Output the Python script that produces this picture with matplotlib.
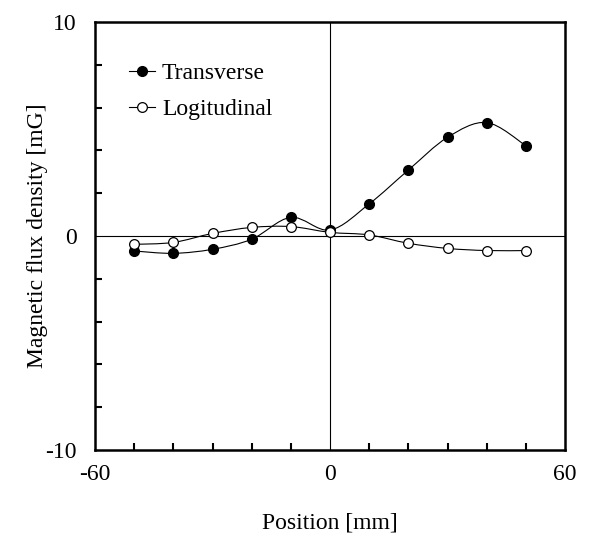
import numpy as np
import matplotlib
matplotlib.use('Agg')
import matplotlib.pyplot as plt
from matplotlib.path import Path
from matplotlib.patches import PathPatch
from matplotlib.lines import Line2D

plt.rcParams['font.family'] = ['Liberation Serif', 'DejaVu Serif']
plt.rcParams['axes.unicode_minus'] = False

position = [-50, -40, -30, -20, -10, 0, 10, 20, 30, 40, 50]
transverse = [-0.70, -0.81, -0.62, -0.15, 0.87, 0.28, 1.50, 3.08, 4.61, 5.30, 4.22]
longitudinal = [-0.39, -0.30, 0.12, 0.40, 0.44, 0.17, 0.05, -0.34, -0.58, -0.68, -0.68]


def smooth_path(xs, ys):
    # bezier segments, catmull-rom style (like spreadsheet "smoothed line")
    p = np.column_stack([xs, ys]).astype(float)
    n = len(p)
    verts = [p[0]]
    codes = [Path.MOVETO]
    for i in range(n - 1):
        p0 = p[i - 1] if i > 0 else p[i]
        p3 = p[i + 2] if i + 2 < n else p[i + 1]
        c1 = p[i] + (p[i + 1] - p0) / 6
        c2 = p[i + 1] - (p3 - p[i]) / 6
        verts += [c1, c2, p[i + 1]]
        codes += [Path.CURVE4] * 3
    return Path(verts, codes)


fig = plt.figure(figsize=(5.95, 5.36), dpi=100)
ax = fig.add_axes([0.1597, 0.1604, 0.7899, 0.7986])

ax.axhline(0, color='black', lw=0.8, zorder=1)
ax.axvline(0, color='black', lw=0.8, zorder=1)

for ys in (transverse, longitudinal):
    ax.add_patch(PathPatch(smooth_path(position, ys), fill=False,
                           edgecolor='black', lw=0.8, zorder=2))

ax.plot(position, transverse, 'o', ms=7, mfc='black', mec='black', zorder=3)
ax.plot(position, longitudinal, 'o', ms=7, mfc='white', mec='black',
        mew=0.9, zorder=3)

ax.set_xlim(-60, 60)
ax.set_ylim(-10, 10)
ax.set_xticks([-60, 0, 60])
ax.set_yticks([-10, 0, 10])
ax.set_xticks(np.arange(-50, 60, 10), minor=True)
ax.set_yticks(np.arange(-8, 10, 2), minor=True)
ax.tick_params(which='both', direction='in', top=False, right=False,
               width=1.5, labelsize=17)
ax.tick_params(which='major', length=0)
ax.tick_params(which='minor', length=5)
ax.tick_params(axis='x', which='major', pad=10)
ax.tick_params(axis='y', which='major', pad=13)
for s in ax.spines.values():
    s.set_linewidth(1.8)

ax.set_xlabel('Position [mm]', fontsize=17, labelpad=20)
ax.set_ylabel('Magnetic flux density [mG]', fontsize=17, labelpad=-2)

handles = [
    Line2D([], [], color='black', lw=0.8, marker='o', ms=7, mfc='black'),
    Line2D([], [], color='black', lw=0.8, marker='o', ms=7, mfc='white', mew=0.9),
]
ax.legend(handles, ['Transverse', 'Logitudinal'], loc='upper left',
          bbox_to_anchor=(0.027, 0.954), frameon=False, fontsize=17,
          handlelength=1.1, handletextpad=0.3, labelspacing=0.6)

fig.savefig('out.png', dpi=100)
